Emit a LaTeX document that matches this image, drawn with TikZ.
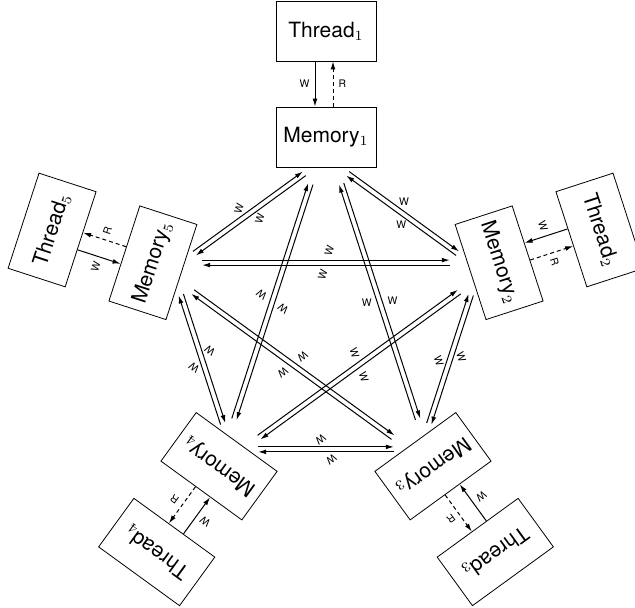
\documentclass[tikz,border=0pt]{standalone}
\usepackage{fontspec}
\setmainfont{TeX Gyre Heros}
\usetikzlibrary{calc,arrows.meta}
\begin{document}
\begin{tikzpicture}[x=0.5pt,y=0.5pt,
    box/.style={draw, minimum width=50pt, minimum height=30pt, inner sep=1pt, font=\fontsize{10.5}{12}\selectfont},
    lbl/.style={font=\fontsize{5.2}{6}\selectfont, inner sep=2.5pt},
    arr/.style={-{Latex[length=4pt,width=2.4pt]}, line width=0.5pt},
    rd/.style={arr, dash pattern=on 2pt off 1.5pt}]
        \useasboundingbox (-326,-289) rectangle (309,319);

        \foreach \i in {1,...,5}{
            \begin{scope}[rotate={-72*(\i-1)}, transform shape]
                \node[box] (t\i) at (90:288) {Thread$_\i$};
                \node[box] (m\i) at (90:182) {Memory$_\i$};
                \coordinate (m\i-nr) at (81.5:147);
                \coordinate (m\i-nl) at (98.5:147);
                \coordinate (m\i-dr) at (83.5:136);
                \coordinate (m\i-dl) at (96.5:136);
                \draw[arr] ($(t\i.south)!5.5pt!(t\i.south west)$) -- node[lbl,left] {W} ($(m\i.north)!5.5pt!(m\i.north west)$);
                \draw[rd] ($(m\i.north)!3.5pt!(m\i.north east)$) -- node[lbl,right] {R} ($(t\i.south)!3.5pt!(t\i.south east)$);
            \end{scope}
        }

        \foreach \i in {1,...,5}{
            \pgfmathtruncatemacro\j{mod(\i,5)+1}
            \pgfmathtruncatemacro\k{mod(\i+1,5)+1}
            \begin{scope}[rotate={-72*(\i-1)}, transform shape]
                \draw[arr] ($(m\i-nr)!1.25pt!90:(m\j-nl)$) -- node[lbl,above] {W} ($(m\j-nl)!1.25pt!-90:(m\i-nr)$);
                \draw[arr] ($(m\j-nl)!1.25pt!90:(m\i-nr)$) -- node[lbl,below] {W} ($(m\i-nr)!1.25pt!-90:(m\j-nl)$);
                \draw[arr] ($(m\i-dr)!1.25pt!90:(m\k-dl)$) -- node[lbl,right] {W} ($(m\k-dl)!1.25pt!-90:(m\i-dr)$);
                \draw[arr] ($(m\k-dl)!1.25pt!90:(m\i-dr)$) -- node[lbl,left] {W} ($(m\i-dr)!1.25pt!-90:(m\k-dl)$);
            \end{scope}
        }
    \end{tikzpicture}
\end{document}
